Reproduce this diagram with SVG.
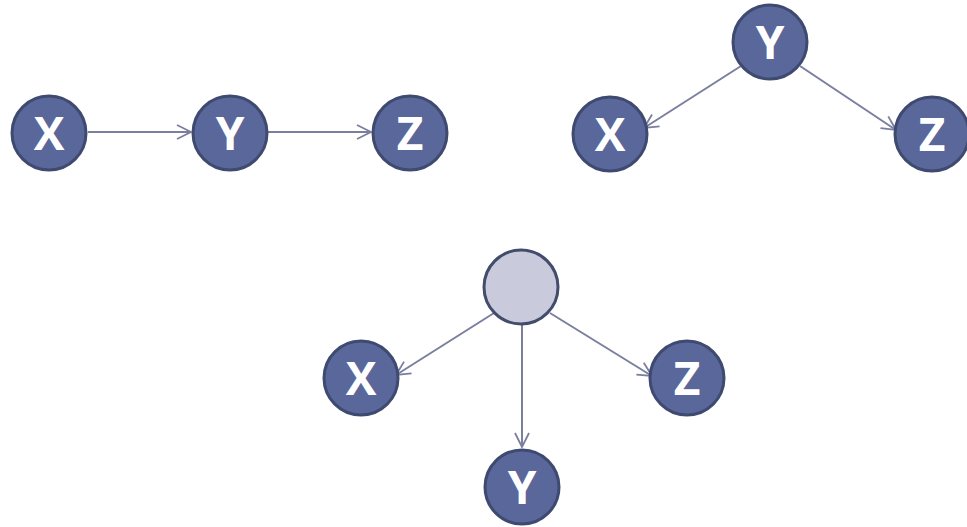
<svg xmlns="http://www.w3.org/2000/svg" width="967" height="527" viewBox="0 0 967 527">
<defs>
<style>
.n circle{fill:#5a679a;stroke:#3f4a70;stroke-width:3}
.n.h circle{fill:#c9cadb;stroke:#444c6c}
.n text{fill:#fff;font-family:"Open Sans","Liberation Sans",sans-serif;font-weight:bold;font-size:46px;text-anchor:middle}
.e line{stroke:#7a7f9e;stroke-width:2;marker-end:url(#a)}
</style>
<marker id="a" viewBox="0 0 16 16" refX="15" refY="8" markerWidth="16" markerHeight="16" markerUnits="userSpaceOnUse" orient="auto">
<path d="M1,1 L15,8 L1,15" fill="none" stroke="#7a7f9e" stroke-width="1.8"/>
</marker>
</defs>
<rect width="967" height="527" fill="#fff"/>
<g id="edges" class="e">
<line x1="88" y1="132" x2="191" y2="132"/>
<line x1="268" y1="132" x2="371" y2="132"/>
<line x1="741" y1="66" x2="644" y2="128"/>
<line x1="800" y1="66" x2="896" y2="130"/>
<line x1="494" y1="313" x2="396" y2="375"/>
<line x1="522" y1="324" x2="522" y2="447"/>
<line x1="550" y1="313" x2="652" y2="376"/>
</g>
<g id="n1" class="n"><circle cx="49" cy="133" r="37"/><text x="49" y="150">X</text></g>
<g id="n2" class="n"><circle cx="230" cy="133" r="37"/><text x="230" y="150">Y</text></g>
<g id="n3" class="n"><circle cx="410" cy="133" r="37"/><text x="410" y="150">Z</text></g>
<g id="n4" class="n"><circle cx="770" cy="42" r="37"/><text x="770" y="59">Y</text></g>
<g id="n5" class="n"><circle cx="610" cy="134" r="37"/><text x="610" y="151">X</text></g>
<g id="n6" class="n"><circle cx="932" cy="134" r="37"/><text x="932" y="151">Z</text></g>
<g id="n7" class="n h"><circle cx="521" cy="287" r="37"/></g>
<g id="n8" class="n"><circle cx="361" cy="378" r="37"/><text x="361" y="395">X</text></g>
<g id="n9" class="n"><circle cx="687" cy="378" r="37"/><text x="687" y="395">Z</text></g>
<g id="n10" class="n"><circle cx="522" cy="487" r="37"/><text x="522" y="504">Y</text></g>
</svg>
